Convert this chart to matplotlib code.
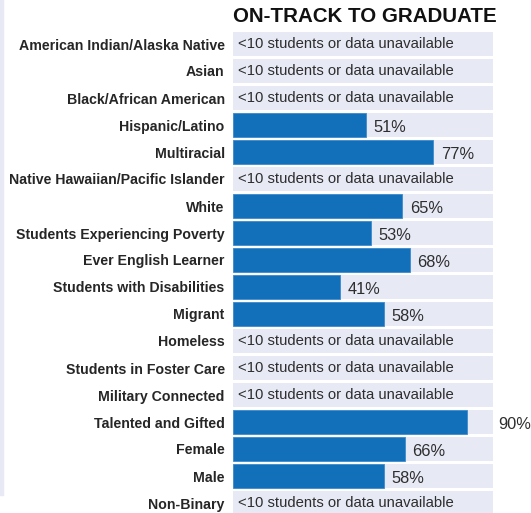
import numpy as np
import matplotlib.pyplot as plt

plt.rcParams['font.family'] = ['Liberation Sans', 'DejaVu Sans']

# Data
groups = [
    "American Indian/Alaska Native", "Asian", "Black/African American",
    "Hispanic/Latino", "Multiracial", "Native Hawaiian/Pacific Islander",
    "White", "Students Experiencing Poverty", "Ever English Learner",
    "Students with Disabilities", "Migrant", "Homeless",
    "Students in Foster Care", "Military Connected", "Talented and Gifted",
    "Female", "Male", "Non-Binary",
]
# None = fewer than 10 students / no data
pct = [None, None, None, 51, 77, None, 65, 53, 68, 41, 58,
       None, None, None, 90, 66, 58, None]

title = "ON-TRACK TO GRADUATE"
na_text = "<10 students or data unavailable"

band_color = "#E7E9F5"
bar_color = "#1170B9"
text_color = "#262626"

W, H = 531, 513
fig = plt.figure(figsize=(W / 100, H / 100), dpi=100)

# faint strip on the left edge
fig.patches.append(plt.Rectangle((0, 18 / H), 3 / W, 1 - 18 / H,
                                 transform=fig.transFigure,
                                 color=band_color, zorder=0))

ax = fig.add_axes([233 / W, 0, 260 / W, (H - 31) / H])
y = np.arange(len(groups))

ax.barh(y, 100, height=0.9, color=band_color, zorder=1)
for i, v in enumerate(pct):
    if v is None:
        ax.text(1.8, i, na_text, va="center", ha="left", fontsize=10.7,
                color="#2e2e2e", zorder=3)
    else:
        ax.barh(i, v, height=0.87, color=bar_color,
                edgecolor="#3C8BD0", linewidth=0.6, zorder=2)
        lx = v + 3 if v < 85 else 102
        ax.text(lx, i + 0.1, f"{v}%", va="center", ha="left", fontsize=11.8,
                color="#2e2e2e", zorder=3, clip_on=False)

ax.set_xlim(0, 100)
ax.set_ylim(len(groups) - 1 + 10 / 27, -13 / 27)
ax.set_yticks(y)
ax.set_yticklabels(groups, fontsize=10.2, fontweight="bold", color=text_color)
ax.tick_params(axis="y", length=0, pad=6)
ax.set_xticks([])
for s in ax.spines.values():
    s.set_visible(False)

fig.text(365 / W, 1 - 16 / H, title, ha="center", va="center",
         fontsize=14.8, fontweight="bold", color="#111111")

fig.savefig("out.png", dpi=100)
